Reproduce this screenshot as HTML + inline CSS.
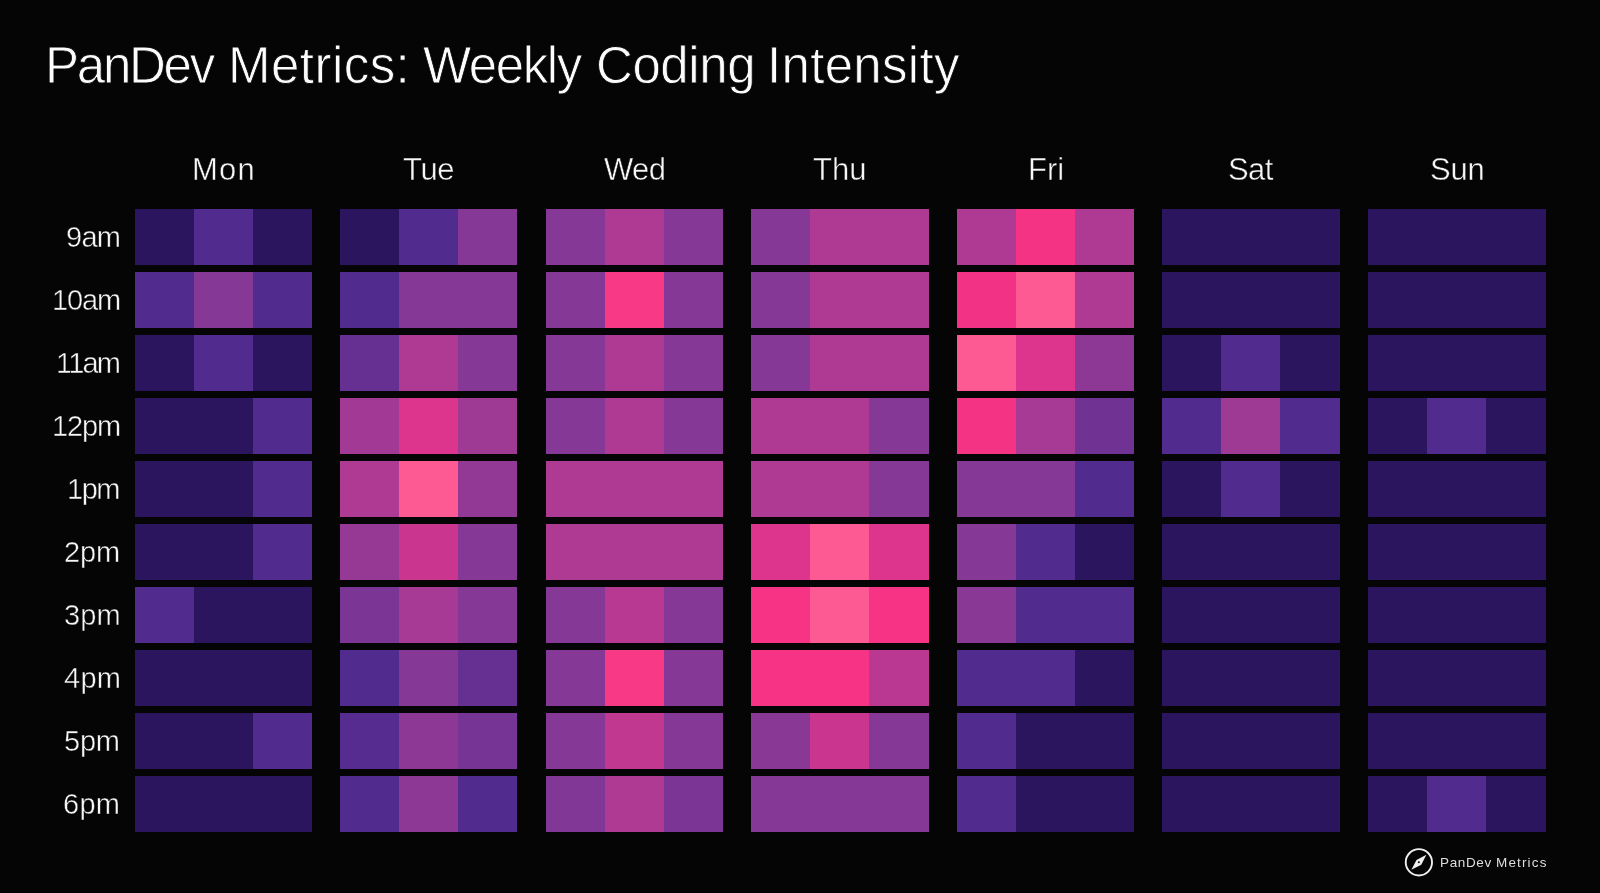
<!DOCTYPE html>
<html><head><meta charset="utf-8"><title>PanDev Metrics: Weekly Coding Intensity</title>
<style>
html,body{margin:0;padding:0;background:#050505;}
body{width:1600px;height:893px;position:relative;overflow:hidden;font-family:"Liberation Sans",sans-serif;color:#fff;}
.t,.d,.h,.lg{position:absolute;white-space:nowrap;line-height:80px;will-change:transform;}
.t{top:25.7px;font-size:51px;color:#fcfcfc;-webkit-text-stroke:0.8px #050505;}
.d{top:129.8px;font-size:31px;color:#f6f6f6;-webkit-text-stroke:0.45px #050505;}
.h{font-size:29px;color:#f6f6f6;-webkit-text-stroke:0.45px #050505;}
.r{position:absolute;width:177.35px;height:56.55px;}
.lg{top:823.1px;font-size:13.5px;color:#dedede;}
svg{position:absolute;}
</style></head><body>

<div class="t" style="left:44.60px;letter-spacing:-2.24px">PanDev</div>
<div class="t" style="left:228.35px;letter-spacing:0.47px">Metrics:</div>
<div class="t" style="left:422.70px;letter-spacing:-1.41px">Weekly</div>
<div class="t" style="left:596.35px;letter-spacing:-0.41px">Coding</div>
<div class="t" style="left:766.70px;letter-spacing:0.31px">Intensity</div>
<div class="d" style="left:192.00px;letter-spacing:1.20px">Mon</div>
<div class="d" style="left:403.00px;letter-spacing:-0.40px">Tue</div>
<div class="d" style="left:603.75px;letter-spacing:-0.60px">Wed</div>
<div class="d" style="left:813.00px;letter-spacing:0.00px">Thu</div>
<div class="d" style="left:1028.00px;letter-spacing:0.00px">Fri</div>
<div class="d" style="left:1227.75px;letter-spacing:-0.60px">Sat</div>
<div class="d" style="left:1429.60px;letter-spacing:-0.20px">Sun</div>
<div class="h" style="left:65.70px;top:197.28px;letter-spacing:-0.70px">9am</div>
<div class="h" style="left:51.50px;top:260.27px;letter-spacing:-1.10px">10am</div>
<div class="h" style="left:55.70px;top:323.27px;letter-spacing:-1.80px">11am</div>
<div class="h" style="left:51.50px;top:386.27px;letter-spacing:-1.10px">12pm</div>
<div class="h" style="left:67.10px;top:449.27px;letter-spacing:-1.50px">1pm</div>
<div class="h" style="left:64.10px;top:512.27px;letter-spacing:-0.10px">2pm</div>
<div class="h" style="left:64.30px;top:575.27px;letter-spacing:0.10px">3pm</div>
<div class="h" style="left:64.00px;top:638.27px;letter-spacing:0.30px">4pm</div>
<div class="h" style="left:64.30px;top:701.27px;letter-spacing:-0.20px">5pm</div>
<div class="h" style="left:63.20px;top:764.27px;letter-spacing:0.30px">6pm</div>
<div class="r" style="left:134.60px;top:208.80px;background:linear-gradient(90deg,#2b155e 58.6px,#522b8f 58.6px,#522b8f 118.3px,#2b155e 118.3px)"></div>
<div class="r" style="left:134.60px;top:271.80px;background:linear-gradient(90deg,#522b8f 58.6px,#853896 58.6px,#853896 118.3px,#522b8f 118.3px)"></div>
<div class="r" style="left:134.60px;top:334.80px;background:linear-gradient(90deg,#2b155e 58.6px,#522b8f 58.6px,#522b8f 118.3px,#2b155e 118.3px)"></div>
<div class="r" style="left:134.60px;top:397.80px;background:linear-gradient(90deg,#2b155e 58.6px,#2b155e 58.6px,#2b155e 118.3px,#522b8f 118.3px)"></div>
<div class="r" style="left:134.60px;top:460.80px;background:linear-gradient(90deg,#2b155e 58.6px,#2b155e 58.6px,#2b155e 118.3px,#522b8f 118.3px)"></div>
<div class="r" style="left:134.60px;top:523.80px;background:linear-gradient(90deg,#2b155e 58.6px,#2b155e 58.6px,#2b155e 118.3px,#522b8f 118.3px)"></div>
<div class="r" style="left:134.60px;top:586.80px;background:linear-gradient(90deg,#522b8f 58.6px,#2b155e 58.6px,#2b155e 118.3px,#2b155e 118.3px)"></div>
<div class="r" style="left:134.60px;top:649.80px;background:#2b155e"></div>
<div class="r" style="left:134.60px;top:712.80px;background:linear-gradient(90deg,#2b155e 58.6px,#2b155e 58.6px,#2b155e 118.3px,#522b8f 118.3px)"></div>
<div class="r" style="left:134.60px;top:775.80px;background:#2b155e"></div>
<div class="r" style="left:339.85px;top:208.80px;background:linear-gradient(90deg,#2b155e 58.6px,#522b8f 58.6px,#522b8f 118.3px,#853896 118.3px)"></div>
<div class="r" style="left:339.85px;top:271.80px;background:linear-gradient(90deg,#522b8f 58.6px,#853896 58.6px,#853896 118.3px,#853896 118.3px)"></div>
<div class="r" style="left:339.85px;top:334.80px;background:linear-gradient(90deg,#663092 58.6px,#ae3a93 58.6px,#ae3a93 118.3px,#853896 118.3px)"></div>
<div class="r" style="left:339.85px;top:397.80px;background:linear-gradient(90deg,#a23994 58.6px,#dd348d 58.6px,#dd348d 118.3px,#9e3994 118.3px)"></div>
<div class="r" style="left:339.85px;top:460.80px;background:linear-gradient(90deg,#ae3a93 58.6px,#fd5a93 58.6px,#fd5a93 118.3px,#913995 118.3px)"></div>
<div class="r" style="left:339.85px;top:523.80px;background:linear-gradient(90deg,#953995 58.6px,#ca368f 58.6px,#ca368f 118.3px,#853896 118.3px)"></div>
<div class="r" style="left:339.85px;top:586.80px;background:linear-gradient(90deg,#7b3595 58.6px,#a63a94 58.6px,#a63a94 118.3px,#853896 118.3px)"></div>
<div class="r" style="left:339.85px;top:649.80px;background:linear-gradient(90deg,#522b8f 58.6px,#853896 58.6px,#853896 118.3px,#663092 118.3px)"></div>
<div class="r" style="left:339.85px;top:712.80px;background:linear-gradient(90deg,#572c90 58.6px,#8d3895 58.6px,#8d3895 118.3px,#763494 118.3px)"></div>
<div class="r" style="left:339.85px;top:775.80px;background:linear-gradient(90deg,#522b8f 58.6px,#8d3895 58.6px,#8d3895 118.3px,#522b8f 118.3px)"></div>
<div class="r" style="left:545.80px;top:208.80px;background:linear-gradient(90deg,#853896 58.6px,#ae3a93 58.6px,#ae3a93 118.3px,#853896 118.3px)"></div>
<div class="r" style="left:545.80px;top:271.80px;background:linear-gradient(90deg,#853896 58.6px,#f73986 58.6px,#f73986 118.3px,#853896 118.3px)"></div>
<div class="r" style="left:545.80px;top:334.80px;background:linear-gradient(90deg,#853896 58.6px,#ae3a93 58.6px,#ae3a93 118.3px,#853896 118.3px)"></div>
<div class="r" style="left:545.80px;top:397.80px;background:linear-gradient(90deg,#853896 58.6px,#ae3a93 58.6px,#ae3a93 118.3px,#853896 118.3px)"></div>
<div class="r" style="left:545.80px;top:460.80px;background:#ae3a93"></div>
<div class="r" style="left:545.80px;top:523.80px;background:#ae3a93"></div>
<div class="r" style="left:545.80px;top:586.80px;background:linear-gradient(90deg,#853896 58.6px,#b73992 58.6px,#b73992 118.3px,#853896 118.3px)"></div>
<div class="r" style="left:545.80px;top:649.80px;background:linear-gradient(90deg,#853896 58.6px,#f73986 58.6px,#f73986 118.3px,#853896 118.3px)"></div>
<div class="r" style="left:545.80px;top:712.80px;background:linear-gradient(90deg,#853896 58.6px,#c13891 58.6px,#c13891 118.3px,#853896 118.3px)"></div>
<div class="r" style="left:545.80px;top:775.80px;background:linear-gradient(90deg,#803795 58.6px,#ae3a93 58.6px,#ae3a93 118.3px,#7b3595 118.3px)"></div>
<div class="r" style="left:751.30px;top:208.80px;background:linear-gradient(90deg,#853896 58.6px,#ae3a93 58.6px,#ae3a93 118.3px,#ae3a93 118.3px)"></div>
<div class="r" style="left:751.30px;top:271.80px;background:linear-gradient(90deg,#853896 58.6px,#ae3a93 58.6px,#ae3a93 118.3px,#ae3a93 118.3px)"></div>
<div class="r" style="left:751.30px;top:334.80px;background:linear-gradient(90deg,#853896 58.6px,#ae3a93 58.6px,#ae3a93 118.3px,#ae3a93 118.3px)"></div>
<div class="r" style="left:751.30px;top:397.80px;background:linear-gradient(90deg,#ae3a93 58.6px,#ae3a93 58.6px,#ae3a93 118.3px,#853896 118.3px)"></div>
<div class="r" style="left:751.30px;top:460.80px;background:linear-gradient(90deg,#ae3a93 58.6px,#ae3a93 58.6px,#ae3a93 118.3px,#853896 118.3px)"></div>
<div class="r" style="left:751.30px;top:523.80px;background:linear-gradient(90deg,#dd348d 58.6px,#fd5a93 58.6px,#fd5a93 118.3px,#dd348d 118.3px)"></div>
<div class="r" style="left:751.30px;top:586.80px;background:linear-gradient(90deg,#f63384 58.6px,#fd5a93 58.6px,#fd5a93 118.3px,#f63384 118.3px)"></div>
<div class="r" style="left:751.30px;top:649.80px;background:linear-gradient(90deg,#f63384 58.6px,#f63384 58.6px,#f63384 118.3px,#ba3892 118.3px)"></div>
<div class="r" style="left:751.30px;top:712.80px;background:linear-gradient(90deg,#893896 58.6px,#ca368f 58.6px,#ca368f 118.3px,#853896 118.3px)"></div>
<div class="r" style="left:751.30px;top:775.80px;background:#853896"></div>
<div class="r" style="left:956.90px;top:208.80px;background:linear-gradient(90deg,#ae3a93 58.6px,#f43385 58.6px,#f43385 118.3px,#ae3a93 118.3px)"></div>
<div class="r" style="left:956.90px;top:271.80px;background:linear-gradient(90deg,#f23385 58.6px,#fd5a93 58.6px,#fd5a93 118.3px,#ae3a93 118.3px)"></div>
<div class="r" style="left:956.90px;top:334.80px;background:linear-gradient(90deg,#fd5a93 58.6px,#dd348d 58.6px,#dd348d 118.3px,#8d3895 118.3px)"></div>
<div class="r" style="left:956.90px;top:397.80px;background:linear-gradient(90deg,#f43385 58.6px,#a63a94 58.6px,#a63a94 118.3px,#713393 118.3px)"></div>
<div class="r" style="left:956.90px;top:460.80px;background:linear-gradient(90deg,#853896 58.6px,#853896 58.6px,#853896 118.3px,#522b8f 118.3px)"></div>
<div class="r" style="left:956.90px;top:523.80px;background:linear-gradient(90deg,#853896 58.6px,#522b8f 58.6px,#522b8f 118.3px,#2b155e 118.3px)"></div>
<div class="r" style="left:956.90px;top:586.80px;background:linear-gradient(90deg,#893896 58.6px,#522b8f 58.6px,#522b8f 118.3px,#522b8f 118.3px)"></div>
<div class="r" style="left:956.90px;top:649.80px;background:linear-gradient(90deg,#522b8f 58.6px,#522b8f 58.6px,#522b8f 118.3px,#2b155e 118.3px)"></div>
<div class="r" style="left:956.90px;top:712.80px;background:linear-gradient(90deg,#522b8f 58.6px,#2b155e 58.6px,#2b155e 118.3px,#2b155e 118.3px)"></div>
<div class="r" style="left:956.90px;top:775.80px;background:linear-gradient(90deg,#522b8f 58.6px,#2b155e 58.6px,#2b155e 118.3px,#2b155e 118.3px)"></div>
<div class="r" style="left:1162.35px;top:208.80px;background:#2b155e"></div>
<div class="r" style="left:1162.35px;top:271.80px;background:#2b155e"></div>
<div class="r" style="left:1162.35px;top:334.80px;background:linear-gradient(90deg,#2b155e 58.6px,#522b8f 58.6px,#522b8f 118.3px,#2b155e 118.3px)"></div>
<div class="r" style="left:1162.35px;top:397.80px;background:linear-gradient(90deg,#522b8f 58.6px,#9e3994 58.6px,#9e3994 118.3px,#522b8f 118.3px)"></div>
<div class="r" style="left:1162.35px;top:460.80px;background:linear-gradient(90deg,#2b155e 58.6px,#522b8f 58.6px,#522b8f 118.3px,#2b155e 118.3px)"></div>
<div class="r" style="left:1162.35px;top:523.80px;background:#2b155e"></div>
<div class="r" style="left:1162.35px;top:586.80px;background:#2b155e"></div>
<div class="r" style="left:1162.35px;top:649.80px;background:#2b155e"></div>
<div class="r" style="left:1162.35px;top:712.80px;background:#2b155e"></div>
<div class="r" style="left:1162.35px;top:775.80px;background:#2b155e"></div>
<div class="r" style="left:1368.35px;top:208.80px;background:#2b155e"></div>
<div class="r" style="left:1368.35px;top:271.80px;background:#2b155e"></div>
<div class="r" style="left:1368.35px;top:334.80px;background:#2b155e"></div>
<div class="r" style="left:1368.35px;top:397.80px;background:linear-gradient(90deg,#2b155e 58.6px,#522b8f 58.6px,#522b8f 118.3px,#2b155e 118.3px)"></div>
<div class="r" style="left:1368.35px;top:460.80px;background:#2b155e"></div>
<div class="r" style="left:1368.35px;top:523.80px;background:#2b155e"></div>
<div class="r" style="left:1368.35px;top:586.80px;background:#2b155e"></div>
<div class="r" style="left:1368.35px;top:649.80px;background:#2b155e"></div>
<div class="r" style="left:1368.35px;top:712.80px;background:#2b155e"></div>
<div class="r" style="left:1368.35px;top:775.80px;background:linear-gradient(90deg,#2b155e 58.6px,#522b8f 58.6px,#522b8f 118.3px,#2b155e 118.3px)"></div>

<svg width="34" height="34" viewBox="0 0 34 34" style="left:1402px;top:846px">
<g transform="translate(0.88 0.3)">
<circle cx="16" cy="16" r="13.15" fill="none" stroke="#f0f0f0" stroke-width="1.9"/>
<path d="M23.5 8.5 L18.4 18.4 L8.5 23.5 L13.6 13.6 Z" fill="#f0f0f0"/>
<circle cx="16" cy="16" r="1.0" fill="#050505"/>
</g>
</svg>
<div class="lg" style="left:1440.1px;letter-spacing:0.65px">PanDev</div>
<div class="lg" style="left:1495.9px;letter-spacing:1.15px">Metrics</div>
</body></html>
